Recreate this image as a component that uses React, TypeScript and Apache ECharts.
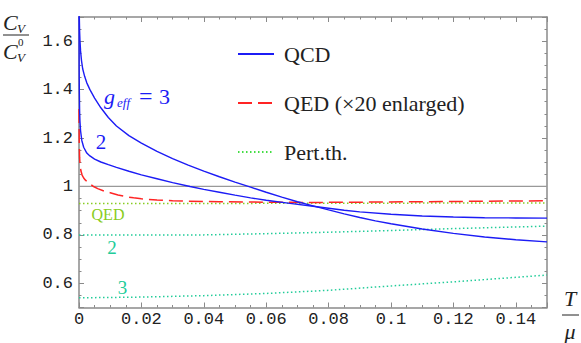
import React, { useEffect, useRef } from "react";
import * as echarts from "echarts";

// QCD, g_eff = 3
const qcdG3: [number, number][] = [
  [0.00001, 2.0], [0.00005, 1.76], [0.0001, 1.7], [0.0002, 1.64], [0.0003, 1.606],
  [0.0005, 1.56], [0.0008, 1.52], [0.0012, 1.485], [0.0018, 1.455], [0.0025, 1.428],
  [0.0035, 1.4], [0.005, 1.365], [0.007, 1.325], [0.0094, 1.285], [0.012, 1.25],
  [0.016, 1.21], [0.02, 1.179], [0.025, 1.145], [0.03, 1.115], [0.035, 1.088],
  [0.04, 1.063], [0.045, 1.04], [0.05, 1.018], [0.055, 0.997], [0.06, 0.976],
  [0.065, 0.956], [0.07, 0.937], [0.075, 0.92], [0.08, 0.903], [0.085, 0.887],
  [0.09, 0.872], [0.095, 0.858], [0.1, 0.846], [0.11, 0.824], [0.12, 0.806],
  [0.13, 0.791], [0.14, 0.78], [0.15, 0.771],
];
// QCD, g_eff = 2
const qcdG2: [number, number][] = [
  [0.00001, 1.9], [0.00005, 1.5], [0.0001, 1.4], [0.0002, 1.31], [0.0003, 1.27],
  [0.0005, 1.23], [0.0009, 1.19], [0.0015, 1.162], [0.0025, 1.138], [0.0035, 1.126],
  [0.005, 1.113], [0.007, 1.101], [0.0094, 1.09], [0.012, 1.079], [0.016, 1.063],
  [0.02, 1.048], [0.025, 1.032], [0.03, 1.016], [0.0356, 1.0], [0.04, 0.988],
  [0.045, 0.976], [0.05, 0.964], [0.055, 0.953], [0.06, 0.943], [0.0676, 0.93],
  [0.075, 0.918], [0.08, 0.91], [0.085, 0.902], [0.09, 0.895], [0.1, 0.885],
  [0.11, 0.878], [0.12, 0.874], [0.13, 0.871], [0.14, 0.87], [0.15, 0.869],
];
// QED (x20 enlarged)
const qedX20: [number, number][] = [
  [0.00001, 1.32], [0.00005, 1.22], [0.0001, 1.17], [0.0002, 1.12], [0.0003, 1.095],
  [0.0006, 1.065], [0.001, 1.047], [0.0015, 1.035], [0.002, 1.027], [0.003, 1.015],
  [0.0045, 1.001], [0.006, 0.991], [0.008, 0.981], [0.01, 0.974], [0.0125, 0.965],
  [0.015, 0.958], [0.0175, 0.953], [0.02, 0.949], [0.025, 0.944], [0.03, 0.941],
  [0.035, 0.939], [0.045, 0.937], [0.06, 0.935], [0.075, 0.934], [0.09, 0.935],
  [0.11, 0.937], [0.13, 0.939], [0.15, 0.941],
];
// Perturbation theory
const pertQED: [number, number][] = [[0, 0.93], [0.05, 0.93], [0.1, 0.931], [0.15, 0.932]];
const pert2: [number, number][] = [
  [0, 0.799], [0.02, 0.799], [0.04, 0.8], [0.06, 0.805], [0.08, 0.811], [0.1, 0.818],
  [0.12, 0.826], [0.15, 0.836],
];
const pert3: [number, number][] = [
  [0, 0.54], [0.02, 0.543], [0.04, 0.549], [0.06, 0.558], [0.08, 0.571], [0.1, 0.589],
  [0.12, 0.606], [0.15, 0.634],
];
const unity: [number, number][] = [[0, 1], [0.15, 1]];

const legendNames = ["QCD", "QED (×20 enlarged)", "Pert.th."];

const SERIF = "Liberation Serif";
const MONO = "Liberation Mono";
const FRAME = "#8a8a8a";
const BLUE = "#1c1cf5";
const RED = "#ff2424";
const TEAL = "#22cc99";
const LIME = "#88cc22";
const GREEN = "#44dd44";

function txt(x: number, y: number, text: string, size: number, fill: string, italic = true, align = "left", family = SERIF) {
  return {
    type: "text",
    x,
    y,
    silent: true,
    style: {
      text,
      fill,
      fontFamily: family,
      fontSize: size,
      fontStyle: italic ? "italic" : "normal",
      textAlign: align,
      textVerticalAlign: "middle",
    },
  };
}

export default function App() {
  const ref = useRef<HTMLDivElement>(null);
  useEffect(() => {
    if (!ref.current) return;
    const chart = echarts.init(ref.current, null, { renderer: "svg" });
    const tickStyle = { color: FRAME, width: 1 };
    const xBase = {
      type: "value",
      min: 0,
      max: 0.15,
      interval: 0.02,
      splitLine: { show: false },
      axisLine: { show: true, onZero: false, lineStyle: { color: FRAME, width: 1.5 } },
      axisTick: { show: true, inside: true, length: 5, lineStyle: tickStyle },
      minorTick: { show: true, splitNumber: 4, length: 2.5, lineStyle: tickStyle },
    };
    const yBase = {
      type: "value",
      min: 0.5,
      max: 1.7,
      splitNumber: 6,
      splitLine: { show: false },
      axisLine: { show: true, onZero: false, lineStyle: { color: FRAME, width: 1.5 } },
      axisTick: { show: true, inside: true, length: 5, lineStyle: tickStyle },
      minorTick: { show: true, splitNumber: 4, length: 2.5, lineStyle: tickStyle },
    };
    const lineSeries = (name: string, data: [number, number][], color: string, type: any, width = 1.4) => ({
      name,
      type: "line",
      data,
      symbol: "none",
      smooth: false,
      color,
      itemStyle: { color },
      lineStyle: { color, width, type },
      silent: true,
    });
    chart.setOption({
      animation: false,
      backgroundColor: "#ffffff",
      textStyle: { fontFamily: SERIF },
      grid: { left: 79, right: 34, top: 17, bottom: 35.5, containLabel: false },
      xAxis: [
        {
          ...xBase,
          position: "bottom",
          axisLabel: {
            showMaxLabel: false,
            fontFamily: MONO,
            fontSize: 17,
            color: "#222",
            margin: 3,
            formatter: (v: number) => String(Math.round(v * 100) / 100),
          },
        },
        { ...xBase, position: "top", axisLabel: { show: false } },
      ],
      yAxis: [
        {
          ...yBase,
          position: "left",
          axisLabel: {
            showMinLabel: false,
            showMaxLabel: false,
            fontFamily: MONO,
            fontSize: 17,
            color: "#222",
            margin: 6,
            formatter: (v: number) => String(Math.round(v * 10) / 10),
          },
        },
        { ...yBase, position: "right", axisLabel: { show: false } },
      ],
      legend: {
        orient: "vertical",
        left: 232,
        top: 38,
        itemWidth: 36,
        itemHeight: 3,
        itemGap: 27,
        selectedMode: false,
        data: legendNames,
        itemStyle: { opacity: 0 },
        textStyle: { fontFamily: SERIF, fontSize: 22, color: "#222", padding: [0, 0, 0, 5] },
      },
      series: [
        lineSeries("unity", unity, "#999999", "solid", 1.2),
        lineSeries("Pert QED", pertQED, LIME, [1.5, 2.5], 1.5),
        lineSeries("Pert g2", pert2, TEAL, [1.5, 2.5], 1.5),
        lineSeries("Pert g3", pert3, TEAL, [1.5, 2.5], 1.5),
        lineSeries(legendNames[1], qedX20, RED, [14, 6], 1.5),
        lineSeries(legendNames[0], qcdG3, BLUE, "solid", 1.4),
        lineSeries(legendNames[0], qcdG2, BLUE, "solid", 1.4),
        lineSeries(legendNames[2], [], GREEN, [1.5, 2.5], 1.5),
      ],
      graphic: [
        // y-axis title C_V / C_V^0
        txt(3, 22, "C", 22, "#222"),
        txt(17, 28, "V", 13, "#222"),
        { type: "line", silent: true, shape: { x1: 3, y1: 35, x2: 29, y2: 35 }, style: { stroke: "#222", lineWidth: 1 } },
        txt(3, 51, "C", 22, "#222"),
        txt(18, 42, "0", 11, "#222", false),
        txt(17, 57.5, "V", 13, "#222"),
        // x-axis title T / mu
        txt(570, 298, "T", 22, "#222", true, "center"),
        { type: "line", silent: true, shape: { x1: 562, y1: 315, x2: 579, y2: 315 }, style: { stroke: "#222", lineWidth: 1 } },
        txt(570, 331, "μ", 22, "#222", true, "center"),
        // curve labels
        txt(104, 96, "g", 22, BLUE),
        txt(117, 102, "eff", 13, BLUE),
        txt(139, 96, "=", 24, BLUE, false),
        txt(159, 96, "3", 22, BLUE, false),
        txt(101, 142, "2", 21, BLUE, false, "center"),
        txt(108, 214, "QED", 16, LIME, false, "center"),
        txt(112, 247, "2", 19, TEAL, false, "center"),
        txt(122.5, 287, "3", 19, TEAL, false, "center"),
      ],
    });
    return () => chart.dispose();
  }, []);
  return (
    <div
      ref={ref}
      style={{ position: "fixed", left: 0, top: 0, width: 581, height: 343, background: "#fff" }}
    />
  );
}
